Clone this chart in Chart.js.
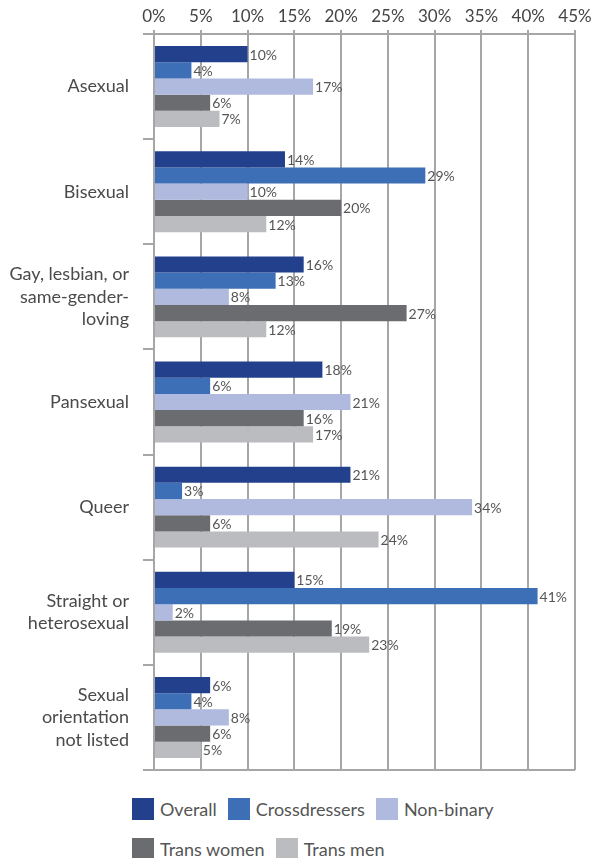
<!DOCTYPE html>
<html>
<head>
    <meta charset="UTF-8">
    <title>Sexual orientation</title>
    <style>
        body {
            margin: 0;
            background: #fff;
            font-family: Lato, sans-serif;
        }

        .chart-box {
            position: relative;
            width: 592px;
            height: 772px;
        }

        #legend {
            position: absolute;
            left: 132px;
            top: 798px;
            width: 440px;
            display: flex;
            flex-wrap: wrap;
            row-gap: 18px;
        }

        .legend-item {
            display: flex;
            align-items: center;
            margin-right: 11px;
            font-size: 18px;
            color: #555;
            height: 22px;
        }

        .legend-swatch {
            width: 22px;
            height: 22px;
            margin-right: 6px;
        }
    </style>
</head>
<body>
    <div class="chart-box">
        <canvas id="chart" width="592" height="772"></canvas>
    </div>
    <div id="legend"></div>

    <script src="https://cdn.jsdelivr.net/npm/chart.js"></script>
    <script>
        const categories = [
            ["Asexual"],
            ["Bisexual"],
            ["Gay, lesbian, or", "same-gender-", "loving"],
            ["Pansexual"],
            ["Queer"],
            ["Straight or", "heterosexual"],
            ["Sexual", "orientation", "not listed"]
        ];
        const seriesNames = ["Overall", "Crossdressers", "Non-binary", "Trans women", "Trans men"];
        const seriesColors = ["#22408c", "#3d6fb6", "#b0badf", "#6b6c70", "#bbbcbf"];

        const overall = [10, 14, 16, 18, 21, 15, 6];
        const crossdressers = [4, 29, 13, 6, 3, 41, 4];
        const nonBinary = [17, 10, 8, 21, 34, 2, 8];
        const transWomen = [6, 20, 27, 16, 6, 19, 6];
        const transMen = [7, 12, 12, 17, 24, 23, 5];
        const seriesValues = [overall, crossdressers, nonBinary, transWomen, transMen];

        const xTicks = [0, 5, 10, 15, 20, 25, 30, 35, 40, 45];

        const gridColor = "#a6a6a6";
        Chart.defaults.font.family = "Lato, sans-serif";
        Chart.defaults.color = "#4a4a4a";

        // percent labels just right of each bar
        const valueLabels = {
            id: "valueLabels",
            afterDatasetsDraw(chart) {
                const ctx = chart.ctx;
                ctx.save();
                ctx.font = "14px Lato, sans-serif";
                ctx.fillStyle = "#555";
                ctx.textBaseline = "middle";
                chart.data.datasets.forEach((ds, i) => {
                    chart.getDatasetMeta(i).data.forEach((bar, j) => {
                        ctx.fillText(ds.data[j] + "%", bar.x + 2, bar.y + 1);
                    });
                });
                ctx.restore();
            }
        };

        new Chart(document.getElementById("chart"), {
            type: "bar",
            data: {
                labels: categories,
                datasets: seriesNames.map((name, i) => ({
                    label: name,
                    data: seriesValues[i],
                    backgroundColor: seriesColors[i],
                    borderWidth: 0,
                    categoryPercentage: 0.77,
                    barPercentage: 1
                }))
            },
            options: {
                indexAxis: "y",
                responsive: false,
                animation: false,
                layout: {
                    padding: { right: 17, bottom: 2 }
                },
                plugins: {
                    legend: { display: false },
                    tooltip: { enabled: false }
                },
                scales: {
                    x: {
                        position: "top",
                        min: 0,
                        max: 45,
                        afterBuildTicks: (scale) => {
                            scale.ticks = xTicks.map((v) => ({ value: v }));
                        },
                        afterFit: (scale) => {
                            scale.height = 34;
                            scale.paddingLeft = 0;
                            scale.paddingRight = 0;
                        },
                        ticks: {
                            callback: (v) => v + "%",
                            font: { size: 17 },
                            color: "#444",
                            padding: 3
                        },
                        grid: {
                            color: gridColor,
                            lineWidth: 2,
                            tickLength: 4
                        },
                        border: {
                            color: gridColor,
                            width: 2
                        }
                    },
                    y: {
                        afterFit: (scale) => {
                            scale.width = 154;
                            scale.paddingTop = 0;
                            scale.paddingBottom = 0;
                        },
                        ticks: {
                            font: { size: 18, lineHeight: 1.25 },
                            color: "#4a4a4a",
                            padding: 14
                        },
                        grid: {
                            offset: true,
                            lineWidth: 2,
                            tickLength: 11,
                            tickColor: gridColor,
                            color: (ctx) => (ctx.index === 0 || ctx.index === undefined) ? gridColor : "rgba(0,0,0,0)"
                        },
                        border: {
                            color: gridColor,
                            width: 2
                        }
                    }
                }
            },
            plugins: [valueLabels]
        });

        const legend = document.getElementById("legend");
        seriesNames.forEach((name, i) => {
            const item = document.createElement("div");
            item.className = "legend-item";
            item.innerHTML = `<span class="legend-swatch" style="background:${seriesColors[i]}"></span>${name}`;
            legend.appendChild(item);
        });
    </script>
</body>
</html>
